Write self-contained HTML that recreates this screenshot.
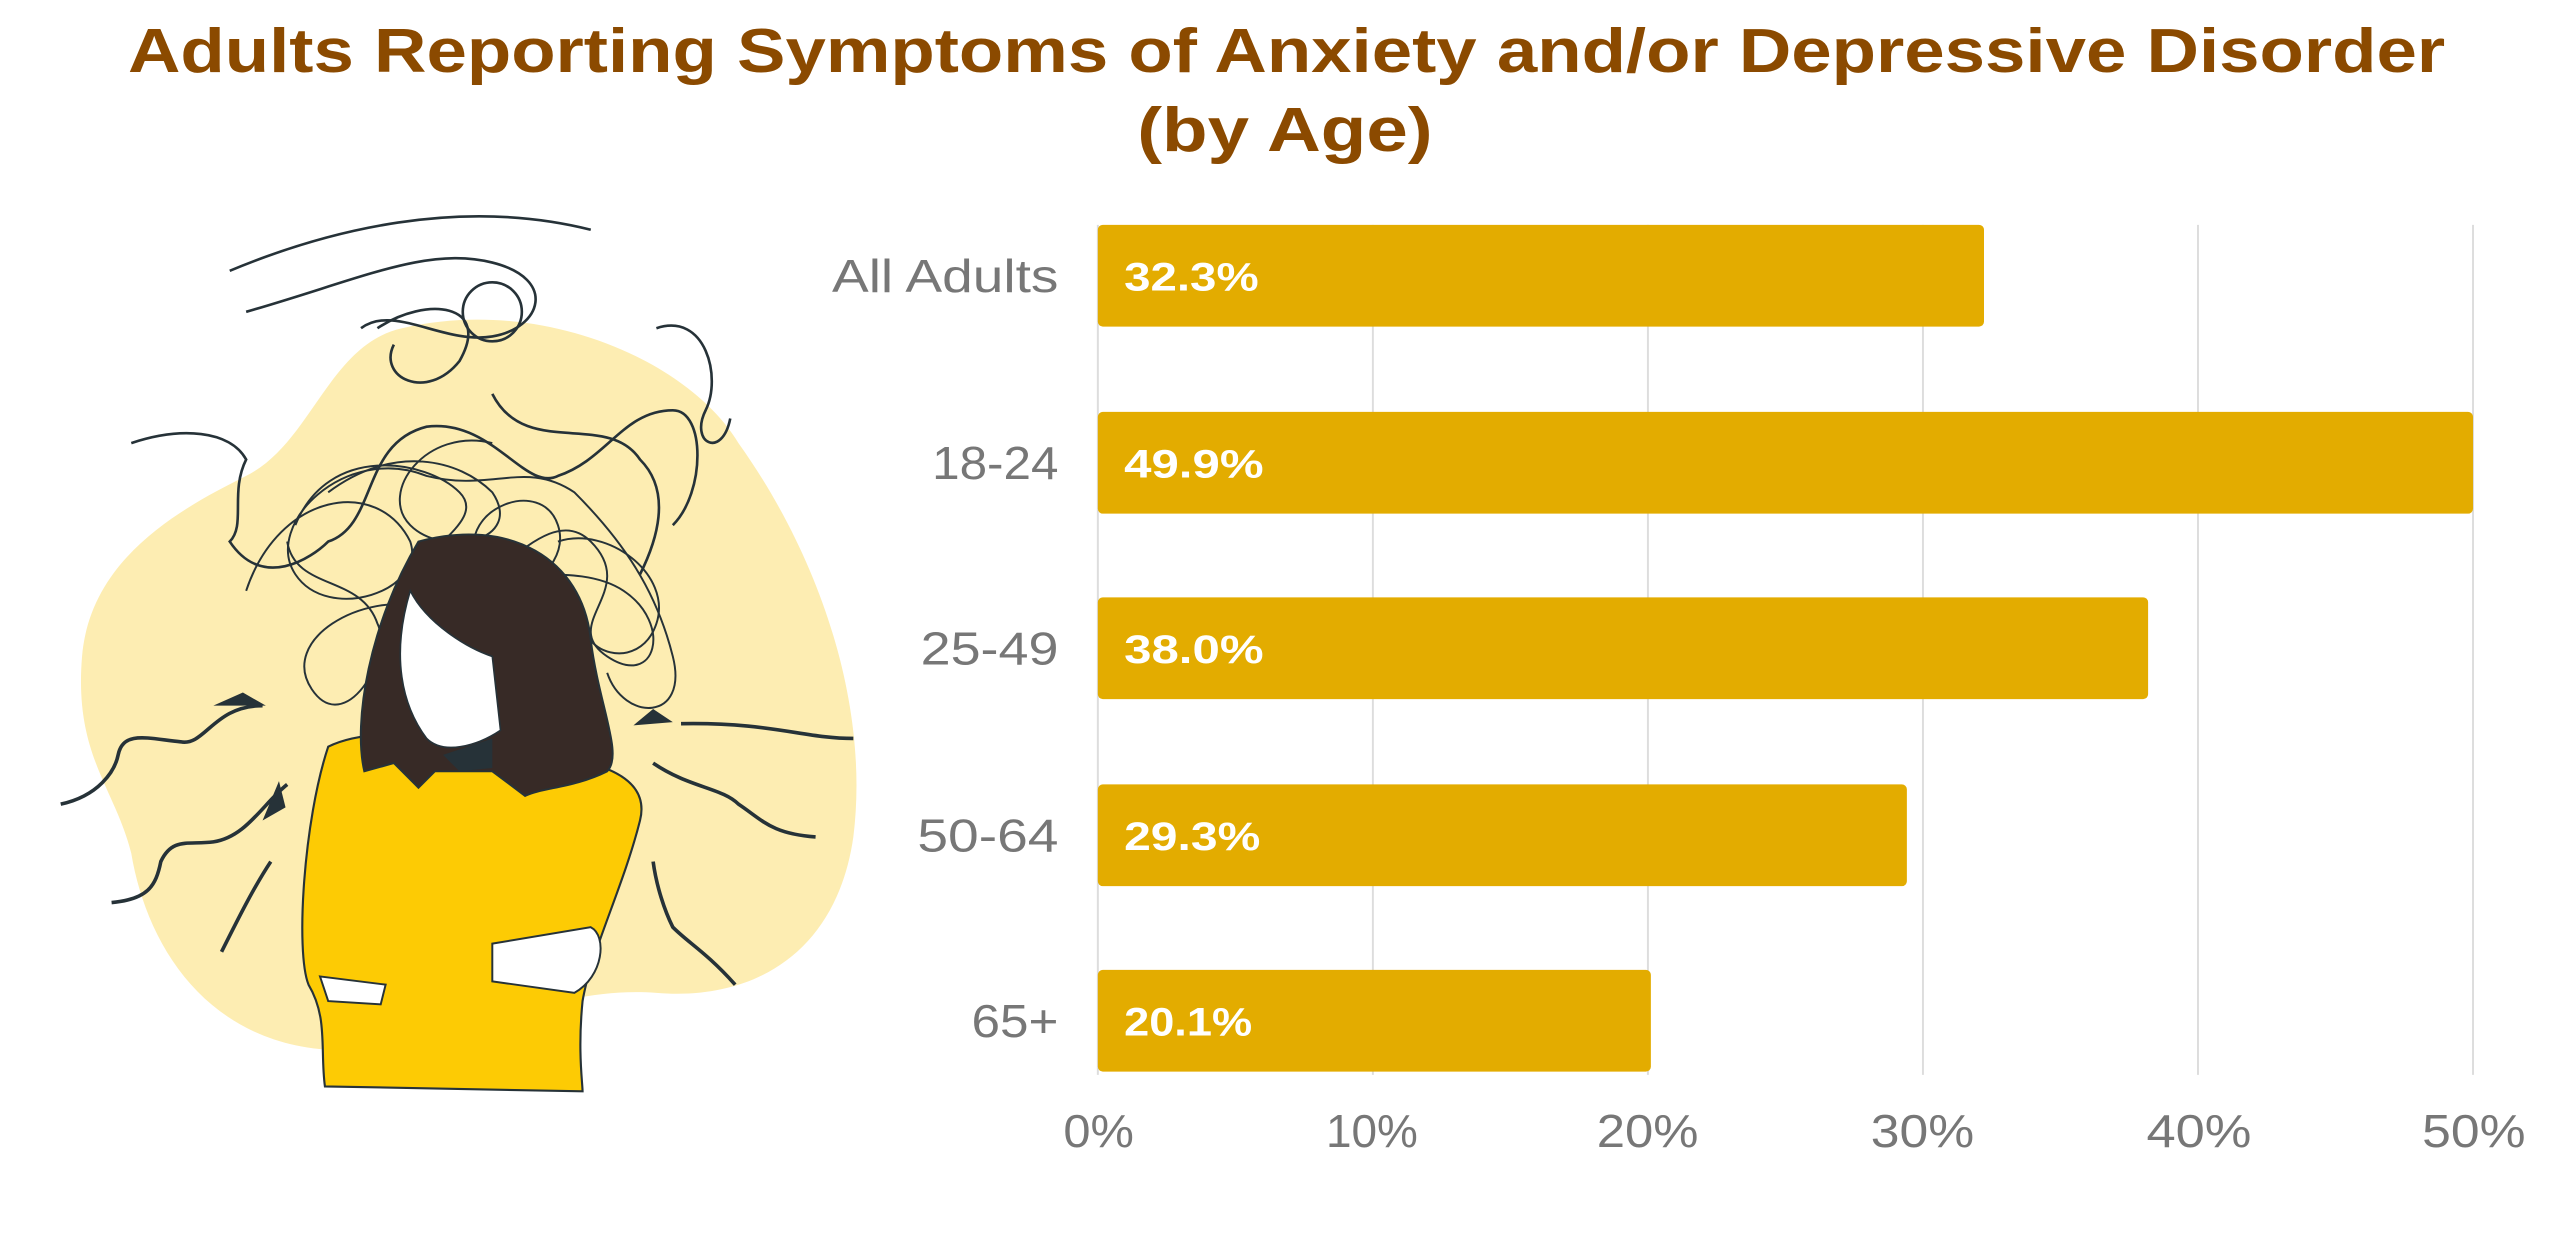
<!DOCTYPE html>
<html><head><meta charset="utf-8"><style>
html,body{margin:0;padding:0;background:#fff;}
svg{display:block;}
</style></head><body>
<svg width="2560" height="1240" viewBox="0 0 1560 755.6" preserveAspectRatio="none" xmlns="http://www.w3.org/2000/svg">
<g font-family="Liberation Sans, Arial, sans-serif">
<text x="78" y="44" textLength="1412" lengthAdjust="spacingAndGlyphs" font-size="38" font-weight="bold" fill="#8B4A00">Adults Reporting Symptoms of Anxiety and/or Depressive Disorder</text>
<text x="693" y="92" textLength="180" lengthAdjust="spacingAndGlyphs" font-size="38" font-weight="bold" fill="#8B4A00">(by Age)</text>

<g stroke="#dddddd" stroke-width="1.2">
<line x1="836.6" y1="137" x2="836.6" y2="655"/>
<line x1="1004.2" y1="137" x2="1004.2" y2="655"/>
<line x1="1171.8" y1="137" x2="1171.8" y2="655"/>
<line x1="1339.4" y1="137" x2="1339.4" y2="655"/>
<line x1="1507" y1="137" x2="1507" y2="655"/>
<line x1="669" y1="137" x2="669" y2="655"/>
</g>
<g fill="#E3AC00">
<rect x="669" y="137" width="540" height="62" rx="3"/>
<rect x="669" y="251" width="838" height="62" rx="3"/>
<rect x="669" y="364" width="640" height="62" rx="3"/>
<rect x="669" y="478" width="493" height="62" rx="3"/>
<rect x="669" y="591" width="337" height="62" rx="3"/>
</g>
<g font-size="24" font-weight="bold" fill="#fff">
<text x="685" y="177" textLength="82" lengthAdjust="spacingAndGlyphs">32.3%</text>
<text x="685" y="291" textLength="85" lengthAdjust="spacingAndGlyphs">49.9%</text>
<text x="685" y="404" textLength="85" lengthAdjust="spacingAndGlyphs">38.0%</text>
<text x="685" y="518" textLength="83" lengthAdjust="spacingAndGlyphs">29.3%</text>
<text x="685" y="631" textLength="78" lengthAdjust="spacingAndGlyphs">20.1%</text>
</g>
<g font-size="28" fill="#777">
<text x="507" y="178" textLength="138" lengthAdjust="spacingAndGlyphs">All Adults</text>
<text x="568" y="292" textLength="77" lengthAdjust="spacingAndGlyphs">18-24</text>
<text x="561" y="405" textLength="84" lengthAdjust="spacingAndGlyphs">25-49</text>
<text x="559" y="519" textLength="86" lengthAdjust="spacingAndGlyphs">50-64</text>
<text x="592" y="632" textLength="53" lengthAdjust="spacingAndGlyphs">65+</text>
</g>
<g font-size="28" fill="#777">
<text x="648" y="699" textLength="43" lengthAdjust="spacingAndGlyphs">0%</text>
<text x="808" y="699" textLength="56" lengthAdjust="spacingAndGlyphs">10%</text>
<text x="973" y="699" textLength="62" lengthAdjust="spacingAndGlyphs">20%</text>
<text x="1140" y="699" textLength="63" lengthAdjust="spacingAndGlyphs">30%</text>
<text x="1308" y="699" textLength="64" lengthAdjust="spacingAndGlyphs">40%</text>
<text x="1476" y="699" textLength="63" lengthAdjust="spacingAndGlyphs">50%</text>
</g>
</g>

<path d="M245 200 C330 180 420 220 450 270 C500 340 530 430 520 510 C510 580 460 610 400 605 C330 600 280 640 210 640 C130 640 90 580 80 520 C70 480 45 460 50 400 C55 340 110 310 150 290 C190 270 200 210 245 200Z" fill="#FDEDB2"/>
<g fill="none" stroke="#263238" stroke-width="1.6">
<path d="M140 165 C200 140 280 120 360 140 M150 190 C220 170 260 150 300 160 C340 170 330 200 300 205 C270 210 240 185 220 200 M80 270 C110 260 140 262 150 280 C140 300 150 320 140 330 C160 360 190 340 200 330 C230 320 220 270 260 260 C300 255 320 300 340 290 C370 280 380 250 410 250 C430 250 430 300 410 320"/>
<path d="M230 200 C260 180 300 185 280 220 C260 245 230 230 240 210 M300 240 C320 280 370 250 390 280 C410 300 400 330 390 350"/>
<path d="M400 200 C430 190 440 230 430 250 C420 270 440 280 445 255"/>
<circle cx="300" cy="190" r="18"/>
<g stroke-width="1.2">
<path d="M180 320 C200 270 260 280 280 300 C300 320 240 340 260 360 C290 380 330 300 360 330 C390 360 340 380 370 400 C400 420 410 380 380 360 C350 340 300 360 290 340 C280 310 330 290 340 320 C350 350 300 380 260 370 C220 360 170 390 190 420 C210 450 240 400 230 380 C220 350 180 360 175 330"/>
<path d="M150 360 C170 300 230 290 250 330 C260 360 200 380 180 350 C160 320 210 270 260 290 C300 300 320 280 350 300 C380 330 400 360 410 400 C420 440 380 440 370 410"/>
<path d="M200 300 C240 270 280 280 300 300 C320 330 270 340 250 320 C230 300 260 260 300 270"/>
<path d="M340 330 C370 320 410 350 400 380 C390 410 350 400 355 370"/>
</g>
</g>
<g fill="#263238">
<path d="M130 430 l32 0 l-14 -8z M410 440 l-24 2 l12 -10z M170 476 l-10 24 l14 -8z"/>
</g>
<g fill="none" stroke="#263238" stroke-width="2.2">
<path d="M37 490 C60 485 70 470 72 460 C75 445 90 450 110 452 C125 455 130 430 160 430"/>
<path d="M68 550 C90 548 95 540 98 525 C105 510 115 515 130 513 C150 510 160 490 175 478"/>
<path d="M135 580 C145 560 155 540 165 525"/>
<path d="M520 450 C490 450 470 440 415 441"/>
<path d="M497 510 C470 508 465 500 450 490 C440 480 420 480 398 465"/>
<path d="M448 600 C430 580 420 575 410 565 C405 555 400 540 398 525"/>
</g>
<path d="M200 455 C230 440 290 450 330 460 C380 465 395 480 390 500 C380 540 360 580 355 610 C352 640 355 660 355 665 L198 662 C195 640 200 620 188 600 C180 580 185 500 200 455Z" fill="#FDCB04" stroke="#263238" stroke-width="1.3"/>
<path d="M300 575 L360 565 C370 570 368 595 350 605 L300 598Z" fill="#fff" stroke="#263238" stroke-width="1.2"/>
<path d="M195 595 L235 600 L232 612 L200 610Z" fill="#fff" stroke="#263238" stroke-width="1.2"/>
<path d="M255 330 C310 315 355 340 360 390 C365 430 380 460 370 470 C350 480 330 480 320 485 L300 470 L265 470 L255 480 L240 465 L222 470 C215 440 225 380 255 330Z" fill="#372A26" stroke="#263238" stroke-width="1.2"/>
<path d="M250 360 C260 380 285 395 300 400 L305 445 C290 455 270 460 260 450 C245 430 238 400 250 360Z" fill="#fff" stroke="#263238" stroke-width="1"/>
<path d="M270 460 L300 450 L300 468 L280 470Z" fill="#263238"/>
</svg>
</body></html>
